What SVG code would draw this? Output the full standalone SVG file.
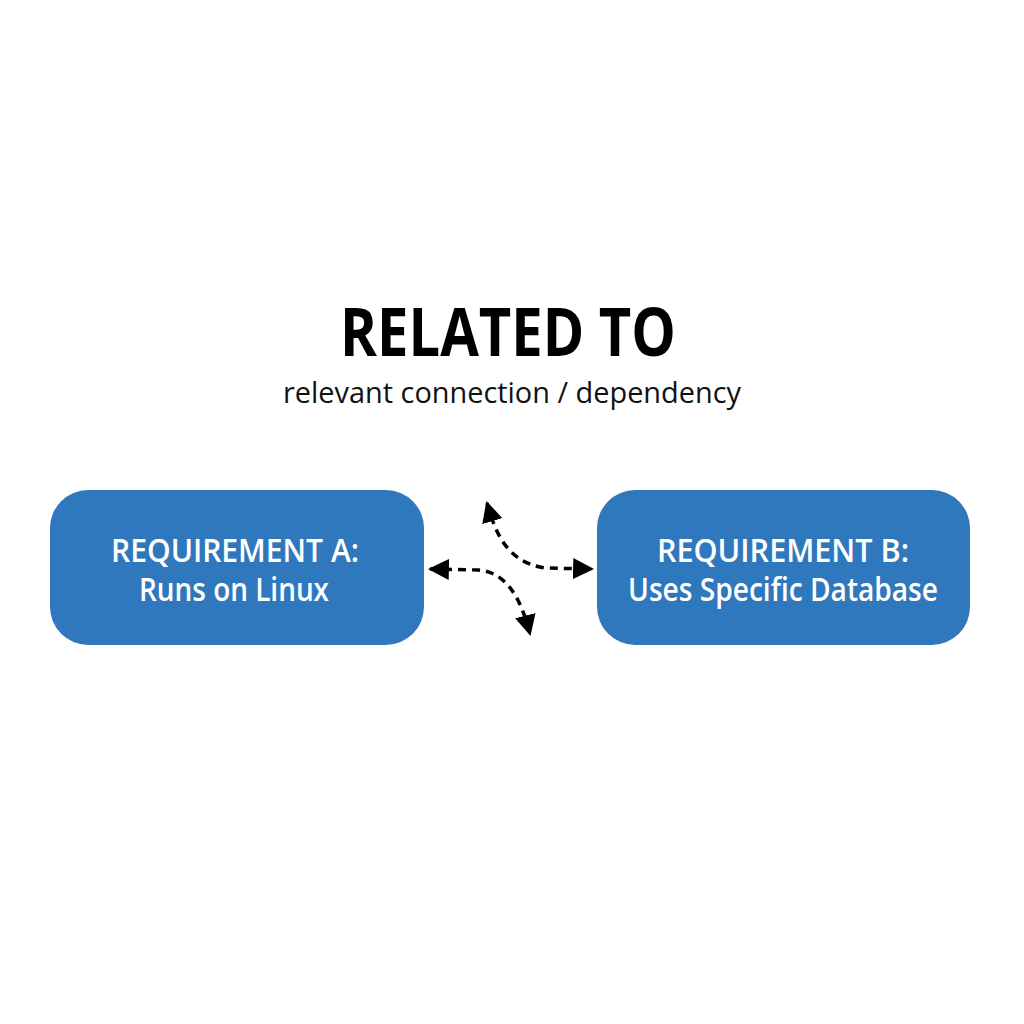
<svg xmlns="http://www.w3.org/2000/svg" width="1024" height="1024" viewBox="0 0 1024 1024">
<defs>
<style>
.box{fill:#2f78bd;}
.lbl{font-family:"Open Sans","Liberation Sans",sans-serif;font-weight:600;fill:#ffffff;text-anchor:middle;}
.title{font-family:"Open Sans","Liberation Sans",sans-serif;font-weight:700;fill:#000;text-anchor:middle;}
.sub{font-family:"Open Sans","Liberation Sans",sans-serif;font-weight:400;fill:#111;text-anchor:middle;}
.conn{fill:none;stroke:#000;stroke-width:3.5;stroke-dasharray:8 6;}
</style>
<marker id="ah" viewBox="0 0 10 10" refX="9" refY="5" markerWidth="6" markerHeight="6" orient="auto-start-reverse" markerUnits="strokeWidth">
<path d="M0,0 L10,5 L0,10 z" fill="#000"/>
</marker>
</defs>
<rect width="1024" height="1024" fill="#ffffff"/>
<g id="title">
<text class="title" x="508" y="356" font-size="66" textLength="336" lengthAdjust="spacingAndGlyphs">RELATED TO</text>
<text class="sub" x="512" y="403" font-size="30" textLength="458" lengthAdjust="spacingAndGlyphs">relevant connection / dependency</text>
</g>
<g id="nodeA">
<rect class="box" x="50" y="490" width="374" height="155" rx="38"/>
<text class="lbl" x="235" y="562" font-size="32" textLength="248" lengthAdjust="spacingAndGlyphs">REQUIREMENT A:</text>
<text class="lbl" x="234" y="601" font-size="32" textLength="190" lengthAdjust="spacingAndGlyphs">Runs on Linux</text>
</g>
<g id="nodeB">
<rect class="box" x="597" y="490" width="373" height="155" rx="38"/>
<text class="lbl" x="783" y="562" font-size="32" textLength="252" lengthAdjust="spacingAndGlyphs">REQUIREMENT B:</text>
<text class="lbl" x="783" y="601" font-size="32" textLength="310" lengthAdjust="spacingAndGlyphs">Uses Specific Database</text>
</g>
<g id="connectors">
<path class="conn" d="M430,569 L478,570 C505,572 520,595 530,634" marker-start="url(#ah)" marker-end="url(#ah)"/>
<path class="conn" d="M487,503 C495,530 505,562 545,568 L592,569" marker-start="url(#ah)" marker-end="url(#ah)"/>
</g>
</svg>
